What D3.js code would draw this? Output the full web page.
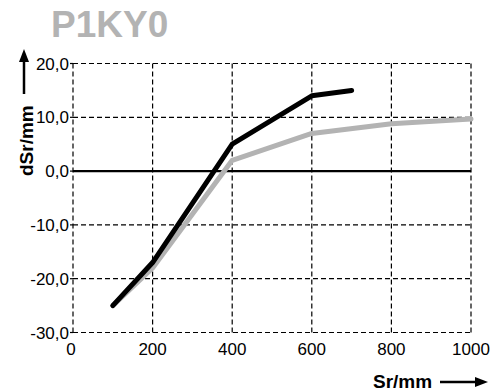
<!DOCTYPE html>
<html>

<head>
    <meta charset="utf-8">
    <script src="https://d3js.org/d3.v7.min.js"></script>
    <title>P1KY0</title>
    <style>
        body { margin: 0; background: #fff; }
        text { font-family: "Liberation Sans", Arial, Helvetica, sans-serif; }
    </style>
</head>

<body>
    <svg></svg>
    <script>
        // data
        const xTicks = [0, 200, 400, 600, 800, 1000];
        const yTicks = [-30, -20, -10, 0, 10, 20];
        const blackX = [100, 200, 400, 600, 700];
        const blackY = [-25, -17, 5, 14, 15];
        const grayX = [100, 200, 400, 600, 800, 1000];
        const grayY = [-25, -18, 2, 7, 8.8, 9.7];

        const width = 500;
        const height = 391;
        const plotL = 73, plotR = 471, plotT = 63.5, plotB = 332.5;

        const svg = d3.select("svg")
            .attr("width", width)
            .attr("height", height);

        const x = d3.scaleLinear().domain([0, 1000]).range([plotL, plotR]);
        const y = d3.scaleLinear().domain([-30, 20]).range([plotB, plotT]);

        // "-20,0" style labels with a plain hyphen
        const fmt = d => d.toFixed(1).replace(".", ",");

        // title
        svg.append("text")
            .attr("x", 51)
            .attr("y", 37)
            .attr("font-size", 37)
            .attr("font-weight", "bold")
            .attr("fill", "#b3b3b3")
            .text("P1KY0");

        // dashed grid + frame
        const grid = svg.append("g")
            .attr("stroke", "#000")
            .attr("stroke-width", 1.2)
            .attr("stroke-dasharray", "5,3");
        grid.selectAll(".v")
            .data(xTicks)
            .enter()
            .append("line")
            .attr("x1", d => x(d)).attr("x2", d => x(d))
            .attr("y1", plotT).attr("y2", plotB);
        grid.selectAll(".h")
            .data(yTicks.filter(d => d !== 0))
            .enter()
            .append("line")
            .attr("x1", plotL).attr("x2", plotR)
            .attr("y1", d => y(d)).attr("y2", d => y(d));

        // small ticks on the left
        svg.append("g")
            .selectAll("line")
            .data(yTicks)
            .enter()
            .append("line")
            .attr("x1", plotL - 3).attr("x2", plotL)
            .attr("y1", d => y(d)).attr("y2", d => y(d))
            .attr("stroke", "#000")
            .attr("stroke-width", 1.2);

        // zero line
        svg.append("line")
            .attr("x1", plotL).attr("x2", plotR)
            .attr("y1", y(0)).attr("y2", y(0))
            .attr("stroke", "#000")
            .attr("stroke-width", 2.2);

        // tick labels
        svg.append("g")
            .selectAll("text")
            .data(yTicks)
            .enter()
            .append("text")
            .attr("x", plotL - 4)
            .attr("y", d => y(d))
            .attr("dy", "0.36em")
            .attr("text-anchor", "end")
            .attr("font-size", 17)
            .text(fmt);
        svg.append("g")
            .selectAll("text")
            .data(xTicks)
            .enter()
            .append("text")
            .attr("x", d => x(d) - (d === 0 ? 2 : 0))
            .attr("y", 355)
            .attr("text-anchor", "middle")
            .attr("font-size", 17)
            .text(d => d);

        // lines
        const line = d3.line()
            .x(d => x(d[0]))
            .y(d => y(d[1]));
        svg.append("path")
            .datum(d3.zip(grayX, grayY))
            .attr("d", line)
            .attr("fill", "none")
            .attr("stroke", "#b3b3b3")
            .attr("stroke-width", 5)
            .attr("stroke-linecap", "round")
            .attr("stroke-linejoin", "round");
        svg.append("path")
            .datum(d3.zip(blackX, blackY))
            .attr("d", line)
            .attr("fill", "none")
            .attr("stroke", "#000")
            .attr("stroke-width", 5)
            .attr("stroke-linecap", "round")
            .attr("stroke-linejoin", "round");

        // axis titles with arrows
        svg.append("text")
            .attr("transform", "translate(33,176) rotate(-90)")
            .attr("font-size", 19)
            .attr("font-weight", "bold")
            .text("dSr/mm");
        svg.append("line")
            .attr("x1", 24).attr("x2", 24)
            .attr("y1", 94).attr("y2", 60)
            .attr("stroke", "#000")
            .attr("stroke-width", 2.5);
        svg.append("path")
            .attr("d", "M24,49 L19,62 L29,62 Z")
            .attr("fill", "#000");

        svg.append("text")
            .attr("x", 373)
            .attr("y", 388)
            .attr("font-size", 19)
            .attr("font-weight", "bold")
            .text("Sr/mm");
        svg.append("line")
            .attr("x1", 440).attr("x2", 476)
            .attr("y1", 382).attr("y2", 382)
            .attr("stroke", "#000")
            .attr("stroke-width", 2.5);
        svg.append("path")
            .attr("d", "M488,382 L475,377 L475,387 Z")
            .attr("fill", "#000");
    </script>
</body>

</html>
